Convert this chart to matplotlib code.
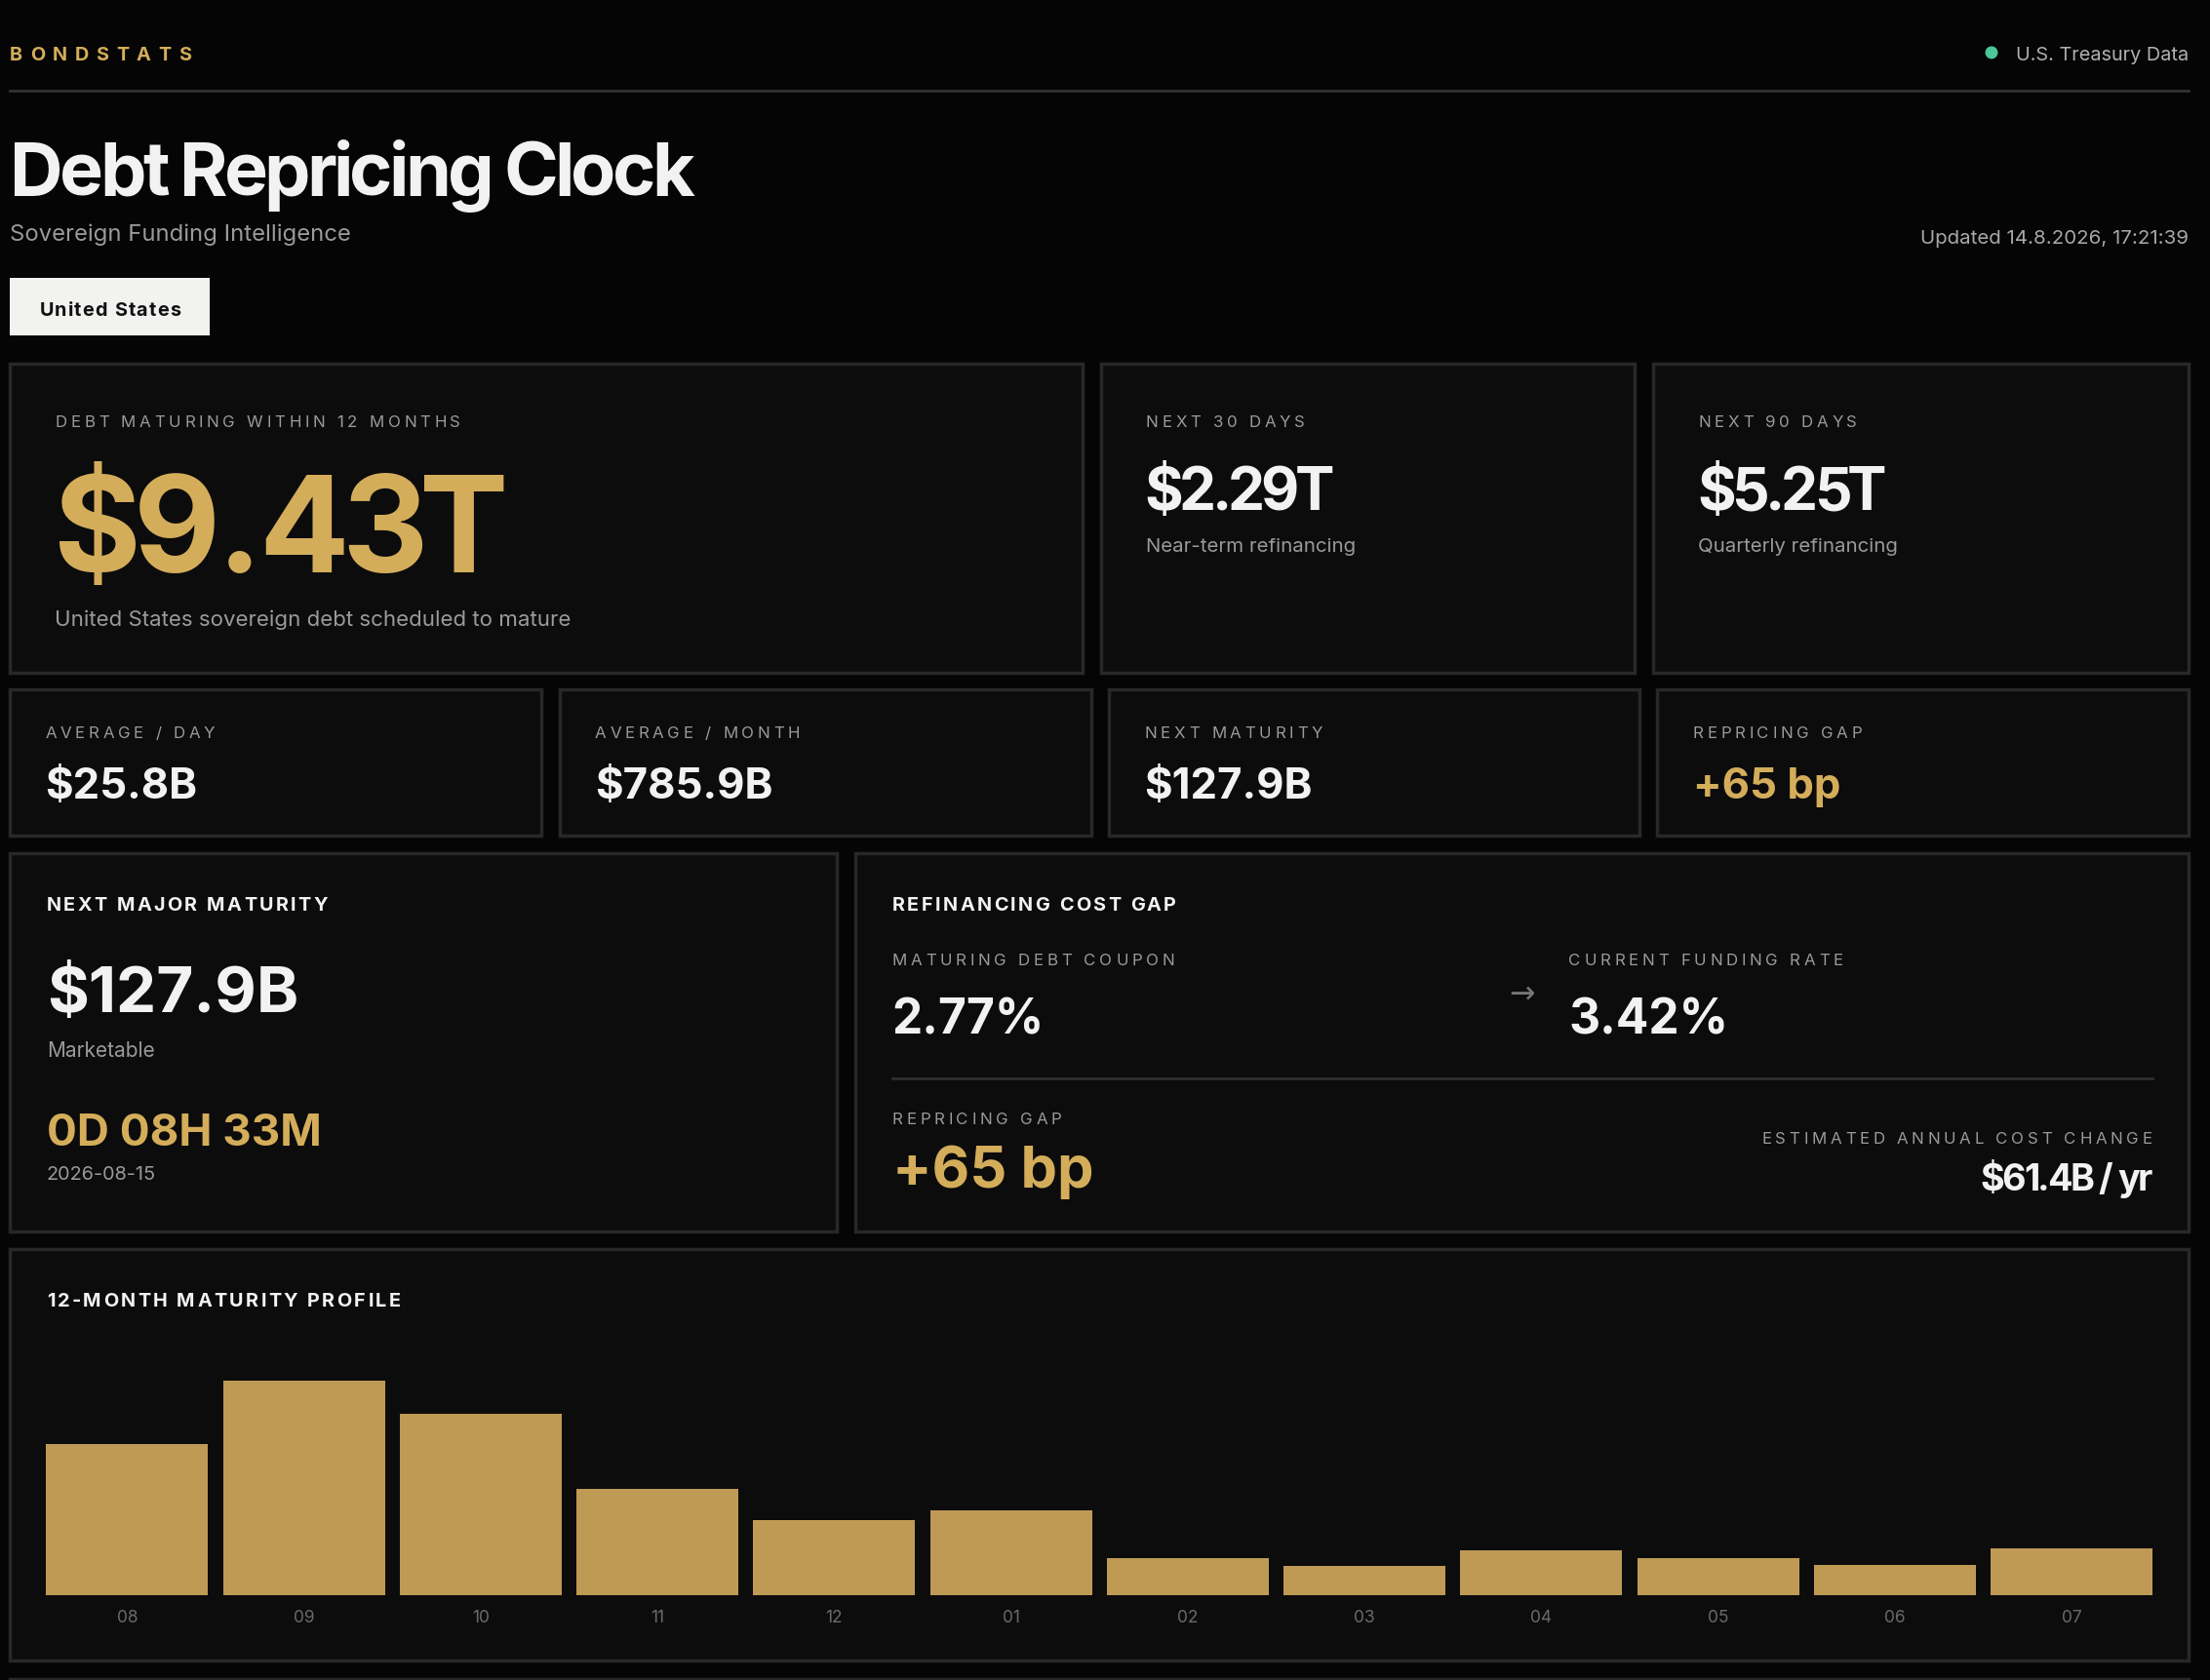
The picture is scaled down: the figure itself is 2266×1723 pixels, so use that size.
import matplotlib
matplotlib.use("Agg")
import matplotlib.pyplot as plt
from matplotlib.patches import Rectangle, Circle
from matplotlib.font_manager import FontProperties, findfont
from matplotlib.ft2font import FT2Font

try:
    from matplotlib.ft2font import LoadFlags
    NO_HINT = LoadFlags.NO_HINTING
except ImportError:
    from matplotlib.ft2font import LOAD_NO_HINTING as NO_HINT

# ---- data ----
months = ["08", "09", "10", "11", "12", "01", "02", "03", "04", "05", "06", "07"]
maturing_bn = [1364, 1937, 1638, 967, 685, 765, 341, 271, 412, 341, 280, 429]

top_cards = [("NEXT 30 DAYS", "$2.29T", "Near-term refinancing"),
             ("NEXT 90 DAYS", "$5.25T", "Quarterly refinancing")]
small_cards = [("AVERAGE / DAY", "$25.8B"), ("AVERAGE / MONTH", "$785.9B"),
               ("NEXT MATURITY", "$127.9B"), ("REPRICING GAP", "+65 bp")]

BG = "#050505"
PANEL = "#0c0c0d"
EDGE = "#282828"
GOLD = "#d4ad5a"
BAR = "#bf9a55"
WHITE = "#f2f2f2"
GREY = "#9a9a9a"

plt.rcParams["font.family"] = ["Inter", "DejaVu Sans"]

W, H = 1568, 1193          # layout units (screen px of the reference)
PX = 2266 / W              # output px per layout unit
fig = plt.figure(figsize=(22.66, 17.24), dpi=100, facecolor=BG)
ax = fig.add_axes([0, 0, 1, 1])
ax.set_xlim(0, W)
ax.set_ylim(H, 0)
ax.axis("off")
ax.set_facecolor(BG)

_fonts = {}


def fs(cap):
    # font size (pt) from a cap height in layout px
    return cap * 1.43


def txt(x, y, s, cap, color=WHITE, weight="normal", ha="left", va="baseline", **kw):
    ax.text(x, y, s, fontsize=fs(cap), color=color, fontweight=weight,
            ha=ha, va=va, **kw)


def tracked(x, y, s, cap, track=0.0, color=WHITE, weight="normal", ha="left",
            dot_track=None):
    # letter-spaced text, one glyph at a time; track is in em
    size = fs(cap)
    if weight not in _fonts:
        _fonts[weight] = FT2Font(findfont(FontProperties(family="Inter", weight=weight)))
    font = _fonts[weight]
    font.set_size(size, 100)
    em = size * 100 / 72 / PX
    adv = [font.load_char(ord(c), flags=NO_HINT).linearHoriAdvance / 65536 / PX for c in s]
    gaps = []
    for a, b in zip(s[:-1], s[1:]):
        t = track
        if dot_track is not None and "." in (a, b):
            t = dot_track
        gaps.append(t * em)
    total = sum(adv) + sum(gaps)
    if ha == "right":
        x -= total
    elif ha == "center":
        x -= total / 2
    for i, (c, a) in enumerate(zip(s, adv)):
        if c != " ":
            ax.text(x, y, c, fontsize=size, color=color, fontweight=weight,
                    ha="left", va="baseline")
        x += a + (gaps[i] if i < len(gaps) else 0)


def panel(x0, y0, x1, y1):
    ax.add_patch(Rectangle((x0, y0), x1 - x0, y1 - y0, facecolor=PANEL,
                           edgecolor=EDGE, linewidth=2.5))


LBL = 0.22   # tracking of small grey labels
HDR = 0.12   # tracking of bold white section heads

# header
tracked(7, 43, "BONDSTATS", 10, 0.38, color=GOLD, weight="bold")
ax.add_patch(Circle((1413, 38), 4, color="#4cc79a"))
txt(1553, 43, "U.S. Treasury Data", 10, color="#b0b0b0", ha="right")
ax.plot([7, 1553], [65, 65], color="#333333", lw=2)

tracked(7, 139, "Debt Repricing Clock", 38, -0.05, weight="bold")
txt(7, 171, "Sovereign Funding Intelligence", 12, color=GREY)
txt(1553, 173, "Updated 14.8.2026, 17:21:39", 10.3, color="#a8a8a8", ha="right")

ax.add_patch(Rectangle((7, 198), 142, 41, facecolor="#f2f2f0", edgecolor="none"))
tracked(78, 224, "United States", 10, 0.06, color="#111111", weight="bold", ha="center")

# row 1
panel(7, 259, 768, 478)
tracked(39, 303, "DEBT MATURING WITHIN 12 MONTHS", 8.5, LBL, color=GREY)
tracked(38, 406, "$9.43T", 69, -0.06, color=GOLD, weight="bold", dot_track=-0.02)
txt(39, 444, "United States sovereign debt scheduled to mature", 11.2, color=GREY)

for (x0, x1), (lab, val, sub) in zip([(781, 1160), (1173, 1553)], top_cards):
    panel(x0, 259, x1, 478)
    tracked(x0 + 32, 303, lab, 8.5, LBL, color=GREY)
    tracked(x0 + 31, 362, val, 30.5, -0.07, weight="bold")
    txt(x0 + 32, 392, sub, 10.3, color=GREY)

# row 2
for (x0, x1), (lab, val) in zip([(7, 384), (397, 774), (787, 1163), (1176, 1553)],
                                small_cards):
    panel(x0, 490, x1, 594)
    tracked(x0 + 25, 524, lab, 8.5, LBL, color=GREY)
    txt(x0 + 25, 567, val, 22, color=GOLD if "bp" in val else WHITE, weight="bold")

# row 3 left
panel(7, 606, 594, 875)
tracked(33, 646, "NEXT MAJOR MATURITY", 10, HDR, weight="bold")
txt(33, 718, "$127.9B", 33, weight="bold")
txt(33, 750, "Marketable", 10.5, color=GREY)
txt(33, 813, "0D 08H 33M", 23, color=GOLD, weight="bold")
txt(33, 837, "2026-08-15", 10, color=GREY)

# row 3 right
panel(607, 606, 1553, 875)
tracked(633, 646, "REFINANCING COST GAP", 10, HDR, weight="bold")
tracked(633, 685, "MATURING DEBT COUPON", 8.5, LBL, color=GREY)
txt(633, 734, "2.77%", 25, weight="bold")
txt(1080, 706, "\u2192", 16, color="#777777", ha="center", va="center",
    family="DejaVu Sans")
tracked(1113, 685, "CURRENT FUNDING RATE", 8.5, LBL, color=GREY)
txt(1113, 734, "3.42%", 25, weight="bold")
ax.plot([633, 1527], [766, 766], color="#2e2e2e", lw=2)
tracked(633, 798, "REPRICING GAP", 8.5, LBL, color=GREY)
txt(633, 843, "+65 bp", 30, color=GOLD, weight="bold")
tracked(1527, 812, "ESTIMATED ANNUAL COST CHANGE", 8.5, LBL, color=GREY, ha="right")
tracked(1527, 845, "$61.4B / yr", 19, -0.06, weight="bold", ha="right")

# row 4 - maturity profile
panel(7, 887, 1553, 1179)
tracked(33, 927, "12-MONTH MATURITY PROFILE", 10, HDR, weight="bold")
ax.plot([7, 1553], [1192, 1192], color=EDGE, lw=2.5)

bx0, bx1, by0, by1 = 27.5, 1532.5, 950, 1133
bax = fig.add_axes([bx0 / W, 1 - by1 / H, (bx1 - bx0) / W, (by1 - by0) / H])
bax.set_facecolor("none")
bax.bar(range(len(months)), maturing_bn, width=0.916, color=BAR)
bax.set_xlim(-0.5, len(months) - 0.5)
bax.set_ylim(0, 2330)
bax.set_xticks(range(len(months)))
bax.set_xticklabels(months, color="#6a6a6a", fontsize=12.5)
bax.tick_params(axis="x", length=0, pad=10)
bax.set_yticks([])
for sp in bax.spines.values():
    sp.set_visible(False)

fig.savefig("out.png", dpi=100, facecolor=BG)
